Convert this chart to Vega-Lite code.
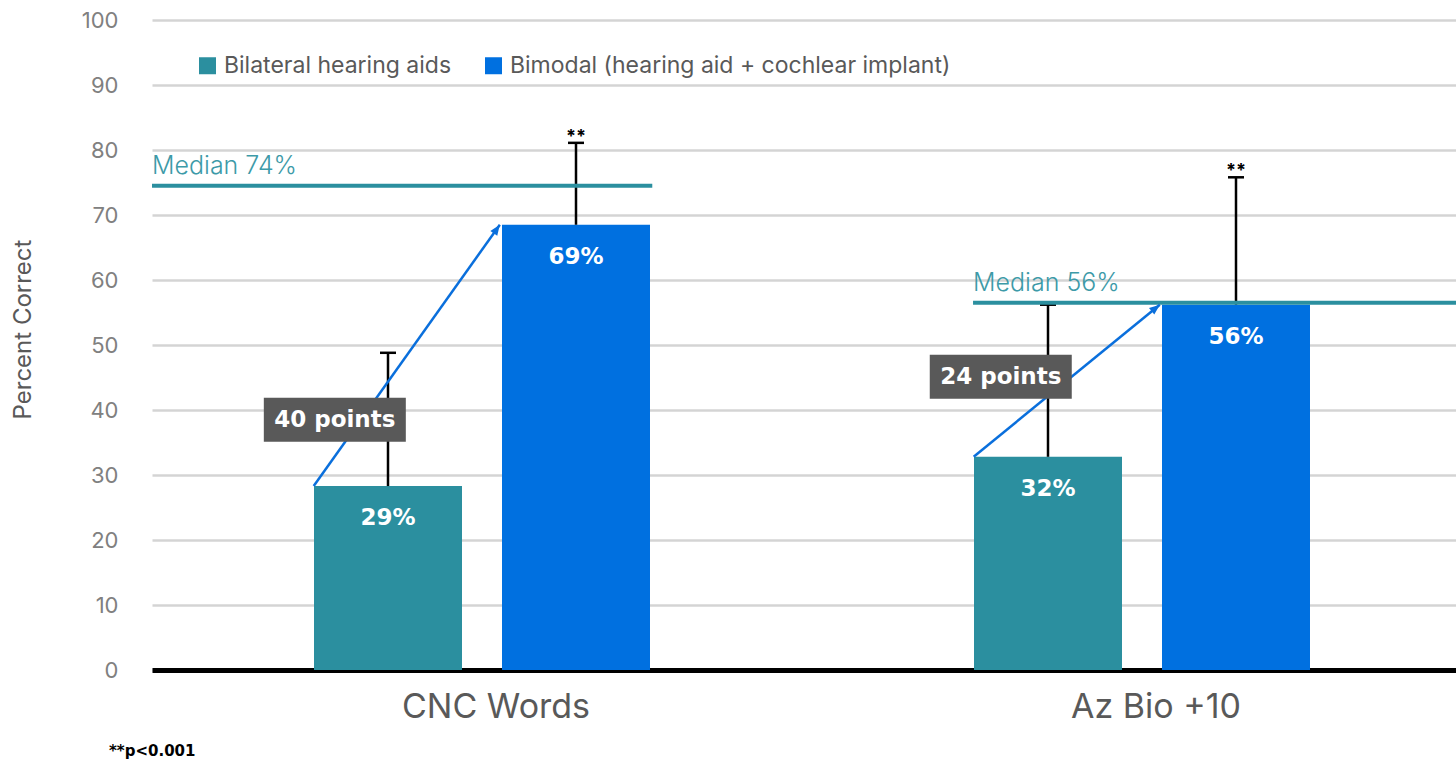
{
  "$schema": "https://vega.github.io/schema/vega-lite/v6.json",
  "autosize": {"type": "none"},
  "padding": {"left": 152, "top": 20, "right": 0, "bottom": 89},
  "width": 1304,
  "height": 650,
  "title": {"text": "**p<0.001", "orient": "bottom", "anchor": "start", "frame": "group", "dx": -43, "offset": 20, "fontSize": 15, "font": "DejaVu Sans", "fontWeight": "bold", "color": "#000000"},
  "datasets": {
    "scores": [
      {"test": "CNC Words", "group": "Bilateral hearing aids", "value": 28.3, "upper": 48.8, "label": "29%", "sig": ""},
      {"test": "CNC Words", "group": "Bimodal (hearing aid + cochlear implant)", "value": 68.5, "upper": 81.1, "label": "69%", "sig": "**"},
      {"test": "Az Bio +10", "group": "Bilateral hearing aids", "value": 32.8, "upper": 56.2, "label": "32%", "sig": ""},
      {"test": "Az Bio +10", "group": "Bimodal (hearing aid + cochlear implant)", "value": 56.2, "upper": 75.8, "label": "56%", "sig": "**"}
    ],
    "gains": [
      {"test": "CNC Words", "from": 28.3, "to": 68.5, "gain": "40 points"},
      {"test": "Az Bio +10", "from": 32.8, "to": 56.2, "gain": "24 points"}
    ],
    "medians": [
      {"test": "CNC Words", "median": 74.5, "label": "Median 74%"},
      {"test": "Az Bio +10", "median": 56.5, "label": "Median 56%"}
    ]
  },
  "config": {
    "view": {"stroke": null},
    "font": "Inter",
    "axis": {"labelFont": "Inter", "titleFont": "Inter"}
  },
  "layer": [
    {
      "data": {"name": "scores"},
      "mark": {"type": "bar"},
      "encoding": {
        "x": {"field": "test", "type": "nominal",
          "scale": {"domain": ["CNC Words", "Az Bio +10"], "range": [0, 1320], "paddingInner": 0, "paddingOuter": 0},
          "axis": {"title": null, "labelFontSize": 34, "labelColor": "#595959", "labelPadding": 20, "labelOffset": 14, "labelLimit": 1000, "ticks": false, "domainColor": "#000000", "domainWidth": 5, "labelAngle": 0, "grid": false}},
        "xOffset": {"field": "group", "type": "nominal",
          "scale": {"domain": ["Bilateral hearing aids", "Bimodal (hearing aid + cochlear implant)"], "paddingInner": 0.2128, "paddingOuter": 0.8617}},
        "y": {"field": "value", "type": "quantitative",
          "scale": {"domain": [0, 100], "nice": false},
          "axis": {"title": "Percent Correct", "titleFontSize": 24, "titleColor": "#595959", "titleFontWeight": "normal", "titleBaseline": "alphabetic", "titleX": -122, "titleY": 309, "titleAngle": -90, "titleAlign": "center",
            "values": [0, 10, 20, 30, 40, 50, 60, 70, 80, 90, 100], "labelFontSize": 22, "labelColor": "#808080", "labelPadding": 34,
            "ticks": false, "domain": false, "grid": true, "gridColor": "#d4d4d4", "gridWidth": 2.5}},
        "color": {"field": "group", "type": "nominal",
          "scale": {"domain": ["Bilateral hearing aids", "Bimodal (hearing aid + cochlear implant)"], "range": ["#2B8F9F", "#0070E0"]},
          "legend": {"orient": "none", "legendX": 44, "legendY": 34, "direction": "horizontal", "title": null, "symbolType": "square", "symbolSize": 289, "symbolOpacity": 1, "symbolStrokeWidth": 0, "labelFontSize": 23, "labelFont": "Inter", "labelColor": "#595959", "labelLimit": 1000, "columnPadding": 30, "labelOffset": 5, "padding": 0}}
      }
    },
    {
      "data": {"name": "scores"},
      "mark": {"type": "rule", "color": "#000000", "strokeWidth": 2.5},
      "encoding": {
        "x": {"field": "test", "type": "nominal"},
        "xOffset": {"field": "group", "type": "nominal"},
        "y": {"field": "value", "type": "quantitative"},
        "y2": {"field": "upper"}
      }
    },
    {
      "data": {"name": "scores"},
      "mark": {"type": "tick", "color": "#000000", "size": 16, "thickness": 2.5, "opacity": 1},
      "encoding": {
        "x": {"field": "test", "type": "nominal"},
        "xOffset": {"field": "group", "type": "nominal"},
        "y": {"field": "upper", "type": "quantitative"}
      }
    },
    {
      "data": {"name": "scores"},
      "mark": {"type": "text", "color": "#ffffff", "font": "DejaVu Sans", "fontSize": 23, "fontWeight": "bold", "baseline": "middle", "dy": 32},
      "encoding": {
        "x": {"field": "test", "type": "nominal"},
        "xOffset": {"field": "group", "type": "nominal"},
        "y": {"field": "value", "type": "quantitative"},
        "text": {"field": "label"}
      }
    },
    {
      "data": {"name": "scores"},
      "mark": {"type": "text", "color": "#000000", "fontSize": 18, "fontWeight": "bold", "baseline": "alphabetic", "dy": -1},
      "encoding": {
        "x": {"field": "test", "type": "nominal"},
        "xOffset": {"field": "group", "type": "nominal"},
        "y": {"field": "upper", "type": "quantitative"},
        "text": {"field": "sig"}
      }
    },
    {
      "data": {"name": "medians"},
      "transform": [{"filter": "datum.test == 'CNC Words'"}],
      "layer": [
        {
          "mark": {"type": "rule", "color": "#2B8F9F", "strokeWidth": 4},
          "encoding": {
            "x": {"field": "test", "type": "nominal", "bandPosition": 0},
            "x2": {"field": "test", "bandPosition": 0.758},
            "y": {"field": "median", "type": "quantitative"}
          }
        },
        {
          "mark": {"type": "text", "color": "#3D9AA8", "fontSize": 25, "fontWeight": 300, "align": "left", "baseline": "alphabetic", "dy": -12},
          "encoding": {
            "x": {"field": "test", "type": "nominal", "bandPosition": 0},
            "y": {"field": "median", "type": "quantitative"},
            "text": {"field": "label"}
          }
        }
      ]
    },
    {
      "data": {"name": "medians"},
      "transform": [{"filter": "datum.test == 'Az Bio +10'"}],
      "layer": [
        {
          "mark": {"type": "rule", "color": "#2B8F9F", "strokeWidth": 4},
          "encoding": {
            "x": {"field": "test", "type": "nominal", "bandPosition": 0.244},
            "x2": {"field": "test", "bandPosition": 1},
            "y": {"field": "median", "type": "quantitative"}
          }
        },
        {
          "mark": {"type": "text", "color": "#3D9AA8", "fontSize": 25, "fontWeight": 300, "align": "left", "baseline": "alphabetic", "dy": -12},
          "encoding": {
            "x": {"field": "test", "type": "nominal", "bandPosition": 0.244},
            "y": {"field": "median", "type": "quantitative"},
            "text": {"field": "label"}
          }
        }
      ]
    },
    {
      "data": {"name": "gains"},
      "mark": {"type": "rule", "color": "#0A6FDC", "strokeWidth": 2.5},
      "encoding": {
        "x": {"field": "test", "type": "nominal", "bandPosition": 0.245},
        "x2": {"field": "test", "bandPosition": 0.527},
        "y": {"field": "from", "type": "quantitative"},
        "y2": {"field": "to"}
      }
    },
    {
      "data": {"name": "gains"},
      "transform": [{"filter": "datum.test == 'CNC Words'"}],
      "layer": [
        {
          "mark": {"type": "point", "shape": "M0,0L0.8,2L-0.8,2Z", "size": 110, "filled": true, "opacity": 1, "color": "#0A6FDC", "angle": 35},
          "encoding": {
            "x": {"field": "test", "type": "nominal", "bandPosition": 0.527},
            "y": {"field": "to", "type": "quantitative"}
          }
        },
        {
          "mark": {"type": "point", "shape": "M-1,-0.31L1,-0.31L1,0.31L-1,0.31Z", "size": 20164, "filled": true, "opacity": 1, "color": "#595959", "strokeWidth": 0},
          "encoding": {
            "x": {"field": "test", "type": "nominal", "bandPosition": 0.277},
            "y": {"datum": 38.5, "type": "quantitative"}
          }
        },
        {
          "mark": {"type": "text", "color": "#ffffff", "font": "DejaVu Sans", "fontSize": 23, "fontWeight": "bold", "align": "center", "baseline": "middle"},
          "encoding": {
            "x": {"field": "test", "type": "nominal", "bandPosition": 0.277},
            "y": {"datum": 38.5, "type": "quantitative"},
            "text": {"field": "gain"}
          }
        }
      ]
    },
    {
      "data": {"name": "gains"},
      "transform": [{"filter": "datum.test == 'Az Bio +10'"}],
      "layer": [
        {
          "mark": {"type": "point", "shape": "M0,0L0.8,2L-0.8,2Z", "size": 110, "filled": true, "opacity": 1, "color": "#0A6FDC", "angle": 51},
          "encoding": {
            "x": {"field": "test", "type": "nominal", "bandPosition": 0.527},
            "y": {"field": "to", "type": "quantitative"}
          }
        },
        {
          "mark": {"type": "point", "shape": "M-1,-0.31L1,-0.31L1,0.31L-1,0.31Z", "size": 20164, "filled": true, "opacity": 1, "color": "#595959", "strokeWidth": 0},
          "encoding": {
            "x": {"field": "test", "type": "nominal", "bandPosition": 0.286},
            "y": {"datum": 45.1, "type": "quantitative"}
          }
        },
        {
          "mark": {"type": "text", "color": "#ffffff", "font": "DejaVu Sans", "fontSize": 23, "fontWeight": "bold", "align": "center", "baseline": "middle"},
          "encoding": {
            "x": {"field": "test", "type": "nominal", "bandPosition": 0.286},
            "y": {"datum": 45.1, "type": "quantitative"},
            "text": {"field": "gain"}
          }
        }
      ]
    }
  ]
}
